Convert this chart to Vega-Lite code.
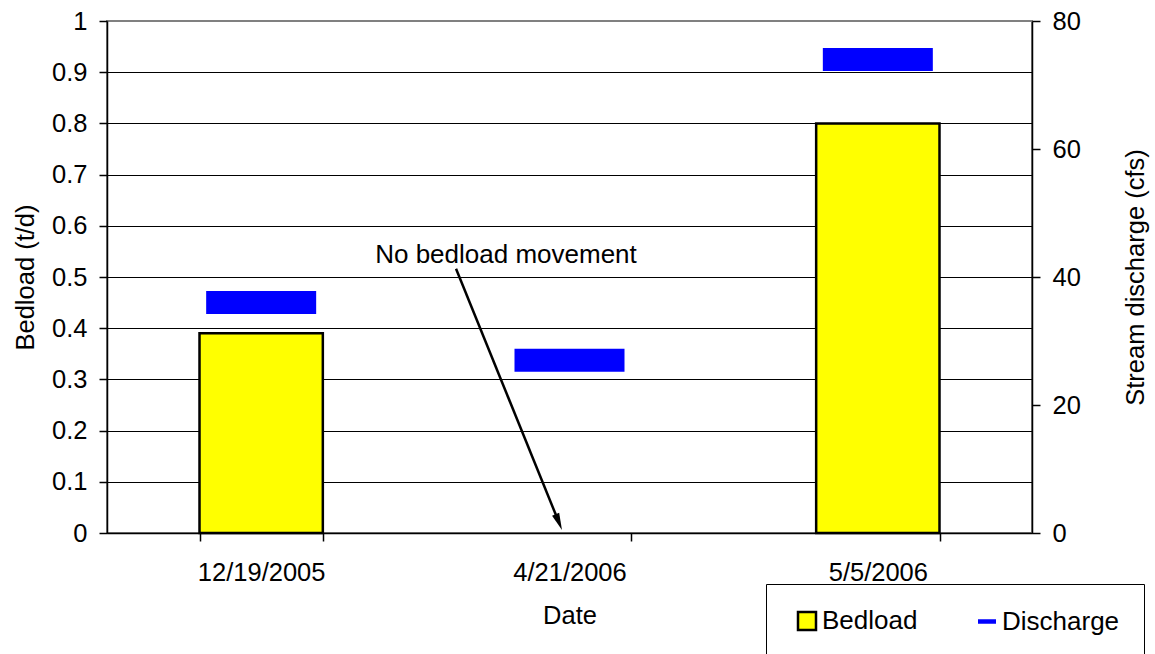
{
  "$schema": "https://vega.github.io/schema/vega-lite/v6.json",
  "width": 925,
  "height": 512,
  "autosize": {"type": "none"},
  "padding": {"left": 107, "top": 21, "right": 123, "bottom": 121},
  "background": "white",
  "config": {
    "font": "Liberation Sans",
    "view": {"stroke": "#808080", "strokeWidth": 2},
    "axis": {
      "labelFontSize": 25.5,
      "titleFontSize": 25.5,
      "titleFontWeight": "normal",
      "labelColor": "black",
      "titleColor": "black",
      "domainColor": "black",
      "tickColor": "black",
      "tickSize": 8,
      "domainWidth": 1.5,
      "tickWidth": 1.5,
      "labelFont": "Liberation Sans",
      "titleFont": "Liberation Sans"
    }
  },
  "datasets": {
    "samples": [
      {"date": "12/19/2005", "bedload": 0.39, "discharge": 36},
      {"date": "4/21/2006", "bedload": 0, "discharge": 27},
      {"date": "5/5/2006", "bedload": 0.8, "discharge": 74}
    ],
    "arrow": [{"x": 1.132, "y": 0.516, "x2": 1.4653, "y2": 0.0213}],
    "arrowhead": [{"x": 1.4653, "y": 0.0213}],
    "note": [{"x": 1.294, "y": 0.527, "label": "No bedload movement"}]
  },
  "layer": [
    {
      "data": {"name": "samples"},
      "mark": {"type": "bar", "stroke": "black"},
      "encoding": {
        "x": {
          "field": "date", "type": "nominal", "sort": null,
          "scale": {"paddingInner": 0.6, "paddingOuter": 0.3},
          "axis": {"title": "Date", "labelAngle": 0, "tickBand": "extent", "grid": false, "labelPadding": 19, "titleY": 90, "titleBaseline": "alphabetic"}
        },
        "y": {
          "field": "bedload", "type": "quantitative",
          "scale": {"domain": [0, 1], "nice": false},
          "axis": {
            "title": "Bedload (t/d)",
            "values": [0, 0.1, 0.2, 0.3, 0.4, 0.5, 0.6, 0.7, 0.8, 0.9, 1],
            "format": "~g",
            "grid": true,
            "gridColor": {"condition": {"test": "datum.value >= 1", "value": "#808080"}, "value": "black"},
            "gridWidth": 1,
            "labelPadding": 12,
            "titleX": -74,
            "titleAngle": -90,
            "titleBaseline": "alphabetic"
          }
        },
        "strokeWidth": {"condition": {"test": "datum.bedload > 0", "value": 2.5}, "value": 0},
        "color": {
          "datum": "Bedload", "type": "nominal",
          "scale": {"domain": ["Bedload", "Discharge"], "range": ["#ffff00", "#0000ff"]},
          "legend": {
            "orient": "none",
            "legendX": 659,
            "legendY": 563,
            "direction": "horizontal",
            "title": null,
            "strokeColor": "black",
            "fillColor": "white",
            "padding": 24,
            "labelFontSize": 26,
            "labelFont": "Liberation Sans",
            "labelColor": "black",
            "symbolType": "square",
            "symbolSize": 324,
            "labelOffset": 2,
            "columnPadding": 52,
            "symbolOffset": 4,
            "symbolStrokeWidth": 2.5,
            "symbolStrokeColor": "black",
            "encode": {
              "symbols": {
                "update": {
                  "shape": {"signal": "datum.value === 'Bedload' ? 'square' : 'M-1,-0.25H1V0.25H-1Z'"},
                  "stroke": {"signal": "datum.value === 'Bedload' ? 'black' : '#0000ff'"},
                  "strokeWidth": {"signal": "datum.value === 'Bedload' ? 2.5 : 0"},
                  "opacity": {"value": 1}
                }
              }
            }
          }
        }
      }
    },
    {
      "data": {"name": "samples"},
      "mark": {"type": "tick", "size": 110, "thickness": 23, "opacity": 1},
      "encoding": {
        "x": {
          "field": "date", "type": "nominal", "sort": null,
          "scale": {"paddingInner": 0.6, "paddingOuter": 0.3},
          "axis": null
        },
        "y": {
          "field": "discharge", "type": "quantitative",
          "scale": {"domain": [0, 80], "nice": false},
          "axis": {
            "orient": "right",
            "title": "Stream discharge (cfs)",
            "values": [0, 20, 40, 60, 80],
            "grid": false,
            "labelPadding": 12,
            "titleAngle": -90,
            "titleX": 111,
            "titleBaseline": "alphabetic"
          }
        },
        "color": {"datum": "Discharge", "type": "nominal", "legend": null}
      }
    },
    {
      "data": {"name": "arrow"},
      "mark": {"type": "rule", "strokeWidth": 2.5, "color": "black"},
      "encoding": {
        "x": {"field": "x", "type": "quantitative", "scale": {"domain": [0, 3], "nice": false, "zero": false}, "axis": null},
        "y": {"field": "y", "type": "quantitative", "scale": {"domain": [0, 1], "nice": false}, "axis": null},
        "x2": {"field": "x2"},
        "y2": {"field": "y2"}
      }
    },
    {
      "data": {"name": "arrowhead"},
      "mark": {"type": "point", "shape": "M0,1L-0.45,-1L0.45,-1Z", "size": 289, "angle": 338, "filled": true, "color": "black", "opacity": 1, "strokeWidth": 0},
      "encoding": {
        "x": {"field": "x", "type": "quantitative", "scale": {"domain": [0, 3], "nice": false, "zero": false}, "axis": null},
        "y": {"field": "y", "type": "quantitative", "scale": {"domain": [0, 1], "nice": false}, "axis": null}
      }
    },
    {
      "data": {"name": "note"},
      "mark": {"type": "text", "fontSize": 26, "align": "center", "baseline": "alphabetic", "color": "black", "font": "Liberation Sans"},
      "encoding": {
        "x": {"field": "x", "type": "quantitative", "scale": {"domain": [0, 3], "nice": false, "zero": false}, "axis": null},
        "y": {"field": "y", "type": "quantitative", "scale": {"domain": [0, 1], "nice": false}, "axis": null},
        "text": {"field": "label"}
      }
    }
  ],
  "resolve": {"scale": {"x": "independent", "y": "independent"}}
}
